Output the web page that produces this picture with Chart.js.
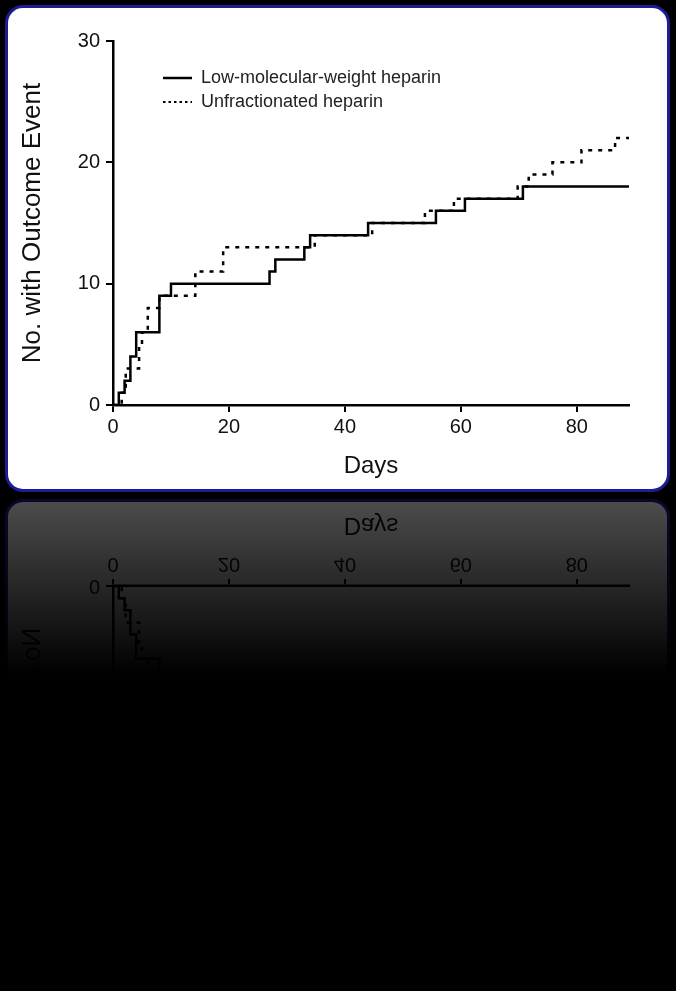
<!DOCTYPE html>
<html lang="en">
<head>
    <meta charset="UTF-8">
    <title>Outcome events by day</title>
    <script src="https://cdn.jsdelivr.net/npm/chart.js"></script>
    <style>
        html, body { margin: 0; padding: 0; background: #000; }
        body { width: 676px; height: 991px; overflow: hidden; position: relative; }
        .card {
            position: absolute;
            left: 5px; top: 5px;
            width: 659px; height: 481px;
            background: #fff;
            border: 3px solid #1c1c96;
            border-radius: 18px;
            -webkit-box-reflect: below 7px linear-gradient(to bottom, transparent 64%, rgba(255,255,255,0.3));
        }
        canvas { display: block; }
    </style>
</head>
<body>
    <div class="card">
        <canvas id="chart" width="659" height="481"></canvas>
    </div>

    <script>
        // Step data (day of event, cumulative count)
        const lmwhLabel = "Low-molecular-weight heparin";
        const lmwhDays  = [0, 1, 2, 3, 4, 8, 10, 27, 28, 33, 34, 44, 55.7, 60.7, 70.7, 89];
        const lmwhCount = [0, 1, 2, 4, 6, 9, 10, 11, 12, 13, 14, 15, 16, 17, 18, 18];

        const ufhLabel = "Unfractionated heparin";
        const ufhDays  = [0, 1.5, 2.2, 4.5, 5, 6, 8, 14.2, 19, 34.8, 44.7, 53.8, 58.8, 69.8, 71.7, 75.8, 80.8, 86.6, 89];
        const ufhCount = [0, 1, 3, 5, 6, 8, 9, 11, 13, 14, 15, 16, 17, 18, 19, 20, 21, 22, 22];

        const xTicks = [0, 20, 40, 60, 80];
        const yTicks = [0, 10, 20, 30];

        const toPoints = (xs, ys) => xs.map((x, i) => ({ x: x, y: ys[i] }));

        // legend drawn inside the plot, top-left
        const innerLegend = {
            id: "innerLegend",
            afterDraw(chart) {
                const ctx = chart.ctx;
                ctx.save();
                chart.data.datasets.forEach((ds, i) => {
                    const y = 70 + i * 24;
                    ctx.beginPath();
                    ctx.strokeStyle = "#000";
                    ctx.lineWidth = i === 0 ? 2.5 : 2;
                    ctx.setLineDash(i === 0 ? [] : [2.5, 3]);
                    ctx.moveTo(155, y);
                    ctx.lineTo(184, y);
                    ctx.stroke();
                    ctx.setLineDash([]);
                    ctx.fillStyle = "#222";
                    ctx.font = "18px 'Liberation Sans', Arial, sans-serif";
                    ctx.textBaseline = "middle";
                    ctx.fillText(ds.label, 193, y);
                });
                ctx.restore();
            }
        };

        Chart.defaults.font.family = "'Liberation Sans', Arial, sans-serif";
        Chart.defaults.color = "#111";

        new Chart(document.getElementById("chart"), {
            type: "line",
            data: {
                datasets: [
                    {
                        label: lmwhLabel,
                        data: toPoints(lmwhDays, lmwhCount),
                        borderColor: "#000",
                        borderWidth: 2.5,
                        stepped: "before",
                        pointRadius: 0,
                        fill: false
                    },
                    {
                        label: ufhLabel,
                        data: toPoints(ufhDays, ufhCount),
                        borderColor: "#000",
                        borderWidth: 2.5,
                        borderDash: [4, 6],
                        stepped: "before",
                        pointRadius: 0,
                        fill: false
                    }
                ]
            },
            options: {
                responsive: false,
                animation: false,
                layout: { padding: { left: 0, top: 33, right: 38, bottom: 0 } },
                plugins: {
                    legend: { display: false },
                    tooltip: { enabled: false }
                },
                scales: {
                    x: {
                        type: "linear",
                        min: 0,
                        max: 89,
                        afterFit: s => { s.height = 84; },
                        afterBuildTicks: s => { s.ticks = xTicks.map(v => ({ value: v })); },
                        border: { color: "#000", width: 2.5 },
                        grid: { drawOnChartArea: false, drawTicks: true, tickLength: 7, color: "#000", lineWidth: 2 },
                        ticks: { font: { size: 20 }, padding: 3, color: "#111" },
                        title: { display: true, text: "Days", font: { size: 24 }, color: "#111", padding: { top: 0, bottom: 8 } }
                    },
                    y: {
                        min: 0,
                        max: 30,
                        afterFit: s => { s.width = 105; },
                        afterBuildTicks: s => { s.ticks = yTicks.map(v => ({ value: v })); },
                        border: { color: "#000", width: 2.5 },
                        grid: { drawOnChartArea: false, drawTicks: true, tickLength: 7, color: "#000", lineWidth: 2 },
                        ticks: { font: { size: 20 }, padding: 6, color: "#111" },
                        title: { display: true, text: "No. with Outcome Event", font: { size: 26 }, color: "#111", padding: { top: 9, bottom: 0 } }
                    }
                }
            },
            plugins: [innerLegend]
        });
    </script>
</body>
</html>
